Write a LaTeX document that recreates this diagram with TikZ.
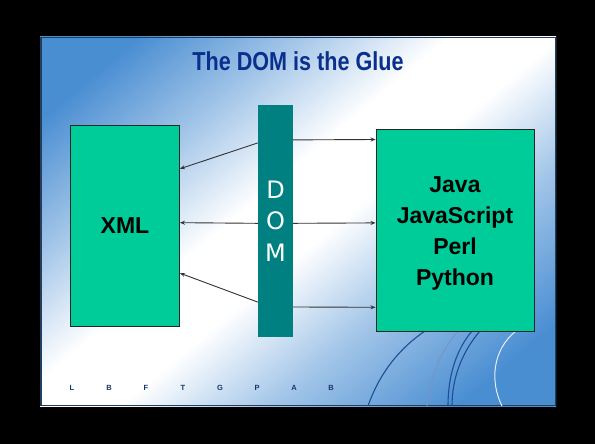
\documentclass[tikz,border=0pt]{standalone}
\usepackage{fontspec}
\setmainfont{Liberation Sans}
\newfontfamily\titlefont{Liberation Sans}[FakeStretch=0.83]
\newfontfamily\domfont{DejaVu Sans}
\usetikzlibrary{arrows.meta, positioning, calc}
\definecolor{slideblue}{HTML}{4A8ED2}
\definecolor{titleblue}{HTML}{0A2F8C}
\definecolor{boxgreen}{HTML}{00CC99}
\definecolor{domteal}{HTML}{008080}
\definecolor{arcblue}{HTML}{1E4E96}
\pgfdeclareverticalshading{slideglow}{100bp}{color(0bp)=(slideblue); color(22bp)=(slideblue); color(36bp)=(slideblue!50!white); color(47bp)=(white); color(55bp)=(white); color(66bp)=(slideblue!50!white); color(78bp)=(slideblue); color(100bp)=(slideblue)}

\begin{document}
\begin{tikzpicture}[x=1pt, y=-1pt,
    langbox/.style={draw=black!85, fill=boxgreen, line width=0.9pt, inner sep=0pt},
    link/.style={draw=black!80, line width=0.9pt, -{Stealth[length=5pt, width=4pt]}}]
  \useasboundingbox (0,0) rectangle (595,444);
  % Fondo negro y diapositiva
  \fill[black] (0,0) rectangle (595,444);
  \shade[shading=slideglow, shading angle=40] (40,37) rectangle (556,406);
  \draw[black!55!slideblue, line width=1.5pt] (40.75,37.75) rectangle (555.25,405.25);
  % Arcos decorativos
  \begin{scope}
    \clip (40,37) rectangle (556,406);
    \draw[arcblue, line width=1.1pt] (368,406) .. controls (380,372) and (400,348) .. (425,331);
    \draw[arcblue!60!white, line width=0.9pt] (427,406) .. controls (430,378) and (440,352) .. (458,331);
    \draw[arcblue, line width=1.1pt] (448,406) .. controls (448,376) and (456,350) .. (472,331);
    \draw[arcblue, line width=1.1pt] (452,406) .. controls (452,378) and (462,352) .. (480,331);
    \draw[white!85!slideblue, line width=1pt] (502,406) .. controls (490,382) and (492,350) .. (516,331);
  \end{scope}
  % Letras del pie
  \foreach \ch [count=\i] in {L,B,F,T,G,P,A,B}
    \node[font=\bfseries\fontsize{7.5}{8}\selectfont, text=arcblue!70!black] (mark\i) at (35+37*\i, 388) {\ch};
  % Titulo
  \node[font=\titlefont\bfseries\fontsize{26}{28}\selectfont, text=titleblue] (title) at (298,61) {The DOM is the Glue};
  % Cajas
  \node[langbox, minimum width=109pt, minimum height=201pt, font=\bfseries\fontsize{23}{26}\selectfont] (xml) at (125,225.5) {XML};
  \node[langbox, minimum width=158pt, minimum height=202pt] (langs) at (455,230) {};
  \node[align=center, font=\bfseries\fontsize{23}{31}\selectfont] (langtext) at ([yshift=-3.5pt]langs.center) {Java\\JavaScript\\Perl\\Python};
  \node[fill=domteal, inner sep=0pt, minimum width=35pt, minimum height=232pt, align=center, text=white, font=\domfont\fontsize{24}{31.5}\selectfont] (dom) at (275.5,221) {D\\O\\M};
  % Flechas
  \draw[link] ($(dom.north west)!0.164!(dom.south west)$) -- ($(xml.north east)!0.219!(xml.south east)$);
  \draw[link] ($(dom.north west)!0.51!(dom.south west)$) -- ($(xml.north east)!0.486!(xml.south east)$);
  \draw[link] ($(dom.north west)!0.849!(dom.south west)$) -- ($(xml.north east)!0.736!(xml.south east)$);
  \draw[link] ($(dom.north east)!0.151!(dom.south east)$) -- ($(langs.north west)!0.054!(langs.south west)$);
  \draw[link] ($(dom.north east)!0.51!(dom.south east)$) -- ($(langs.north west)!0.465!(langs.south west)$);
  \draw[link] ($(dom.north east)!0.87!(dom.south east)$) -- ($(langs.north west)!0.881!(langs.south west)$);
\end{tikzpicture}
\end{document}
